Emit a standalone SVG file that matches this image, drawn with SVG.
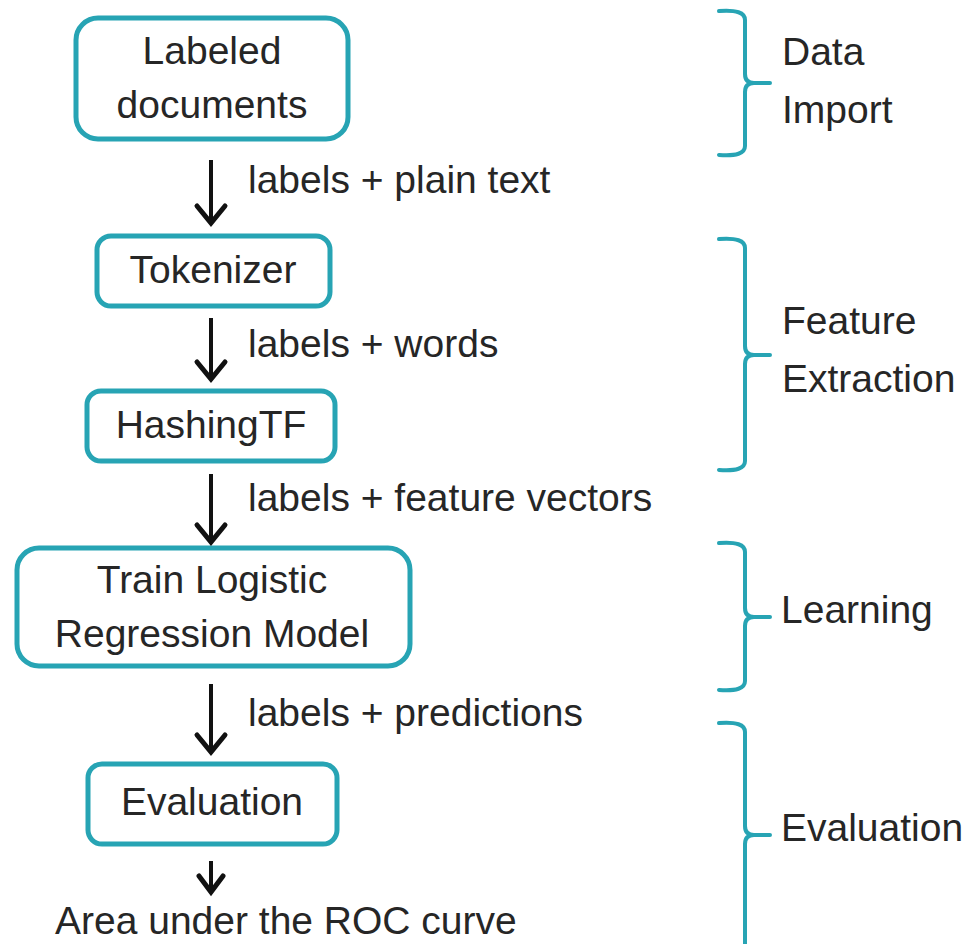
<svg xmlns="http://www.w3.org/2000/svg" width="970" height="944" viewBox="0 0 970 944">
<style>
.box{fill:#fff;stroke:#27a4b4;stroke-width:5}
.br{fill:none;stroke:#27a4b4;stroke-width:4;stroke-linecap:round;stroke-linejoin:round}
.t{font-family:"Liberation Sans",Arial,sans-serif;font-size:39px;fill:#262626}
.c{text-anchor:middle}
.ln{stroke:#111;stroke-width:4;fill:none}
.hd{stroke:#111;stroke-width:5;fill:none;stroke-linecap:round;stroke-linejoin:miter}
</style>
<rect width="970" height="944" fill="#fff"/>
<g id="n1"><rect class="box" x="76" y="18" width="272" height="121" rx="22"/>
<text class="t c" x="212" y="64">Labeled</text><text class="t c" x="212" y="118">documents</text></g>
<g id="n2"><rect class="box" x="97" y="236" width="233" height="70" rx="14"/>
<text class="t c" x="213" y="283">Tokenizer</text></g>
<g id="n3"><rect class="box" x="87" y="391" width="248" height="70" rx="14"/>
<text class="t c" x="211" y="438">HashingTF</text></g>
<g id="n4"><rect class="box" x="17" y="548" width="393" height="118" rx="22"/>
<text class="t c" x="212" y="593">Train Logistic</text><text class="t c" x="212" y="647">Regression Model</text></g>
<g id="n5"><rect class="box" x="88" y="764" width="249" height="80" rx="14"/>
<text class="t c" x="212" y="815">Evaluation</text></g>
<g id="connectors">
<line class="ln" x1="211" y1="160" x2="211" y2="222"/><path class="hd" d="M197,206 L211,223 L225,206"/>
<line class="ln" x1="211" y1="318" x2="211" y2="378"/><path class="hd" d="M197,362 L211,379 L225,362"/>
<line class="ln" x1="211" y1="474" x2="211" y2="541"/><path class="hd" d="M197,525 L211,542 L225,525"/>
<line class="ln" x1="211" y1="684" x2="211" y2="751"/><path class="hd" d="M197,735 L211,752 L225,735"/>
<line class="ln" x1="211" y1="861" x2="211" y2="891"/><path class="hd" d="M199,876 L211,892 L223,876"/>
<text class="t" x="248" y="193">labels + plain text</text>
<text class="t" x="248" y="357">labels + words</text>
<text class="t" x="248" y="511">labels + feature vectors</text>
<text class="t" x="248" y="726">labels + predictions</text>
</g>
<text class="t" x="55" y="934">Area under the ROC curve</text>
<g id="b1"><path class="br" d="M719,11 Q745,9 745,20 L745,74 Q745,83 754,83 L770,83 M754,83 Q745,83 745,92 L745,146 Q745,157 719,155"/>
<text class="t" x="782" y="65">Data</text><text class="t" x="782" y="123">Import</text></g>
<g id="b2"><path class="br" d="M719,239 Q745,237 745,248 L745,346 Q745,355 754,355 L770,355 M754,355 Q745,355 745,364 L745,461 Q745,472 719,470"/>
<text class="t" x="782" y="334">Feature</text><text class="t" x="782" y="392">Extraction</text></g>
<g id="b3"><path class="br" d="M719,543 Q745,541 745,552 L745,608 Q745,617 754,617 L770,617 M754,617 Q745,617 745,626 L745,681 Q745,692 719,690"/>
<text class="t" x="781" y="623">Learning</text></g>
<g id="b4"><path class="br" d="M719,723 Q745,721 745,732 L745,826 Q745,835 754,835 L770,835 M754,835 Q745,835 745,844 L745,946"/>
<text class="t" x="781" y="841">Evaluation</text></g>
</svg>
